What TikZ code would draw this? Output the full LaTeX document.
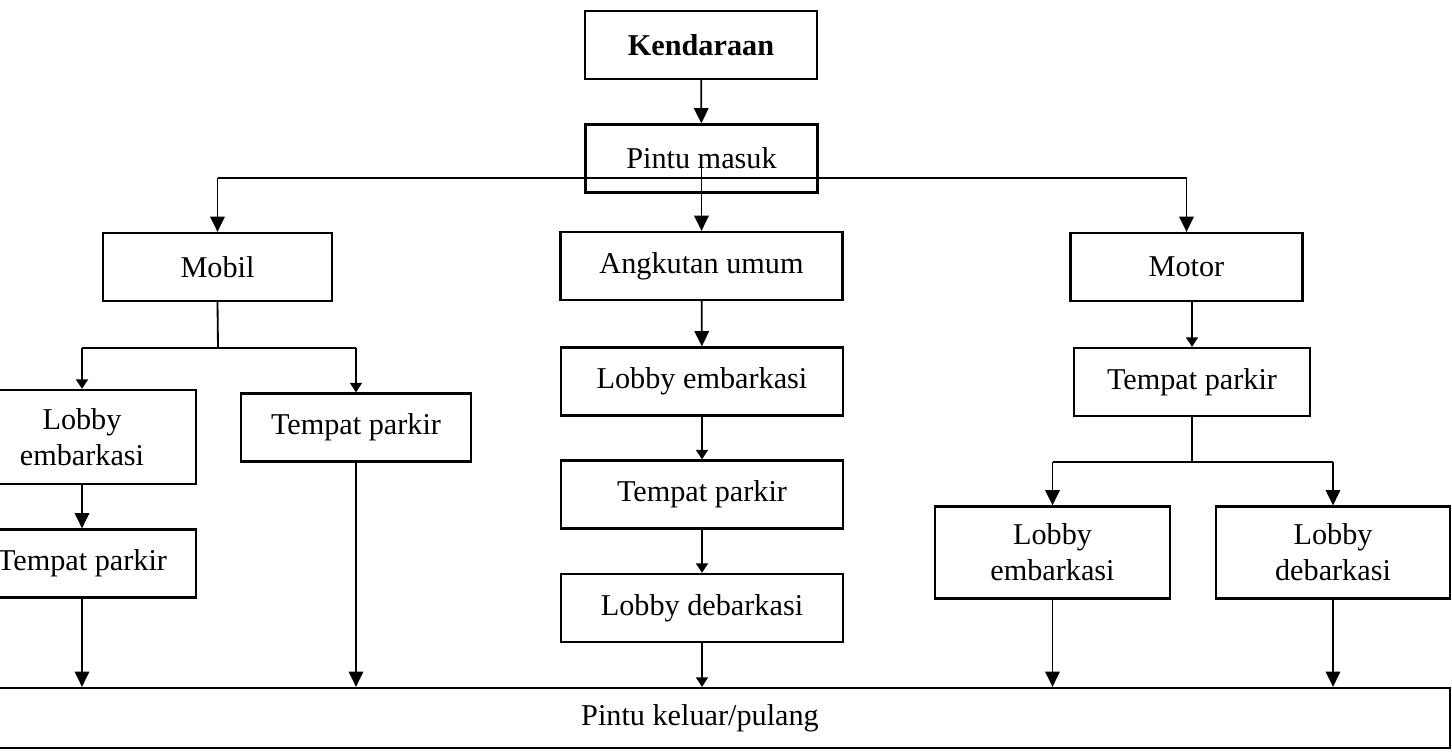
\documentclass[tikz,border=0pt]{standalone}
\usepackage{fontspec}
\setmainfont{Liberation Serif}
\usetikzlibrary{arrows.meta}
\newcommand{\boxfont}{\fontsize{21.5}{25.5}\selectfont}

\begin{document}
\begin{tikzpicture}[
  x=0.025cm,
  y=-0.025cm,
  every node/.style={font=\boxfont, black},
  box/.style={draw, line width=1.6pt, inner sep=0pt, align=center,
    minimum width=5.8cm, minimum height=1.7cm},
  widebox/.style={box, minimum width=7.05cm},
  tallbox/.style={box, minimum height=2.3cm},
  link/.style={line width=1.3pt},
  arrow/.style={link, -{Triangle[length=0.38cm, width=0.36cm]}},
  smallarrow/.style={link, -{Triangle[length=0.24cm, width=0.3cm]}}
]
  % ---- page frame, the scan cuts the outer boxes ---------------------
  \useasboundingbox (0,0) rectangle (1452,755);
  \clip (0,0) rectangle (1452,755);

  % ---- top of the flow -----------------------------------------------
  \node[box, font=\boxfont\bfseries] (kend) at (701,45) {Kendaraan};
  \node[box] (masuk) at (701.5,158.5) {Pintu masuk};
  \coordinate (split) at (701,178);

  % ---- the three kinds of vehicle ------------------------------------
  \node[box, minimum width=5.72cm] (mobil) at (217.5,267) {Mobil};
  \node[widebox] (angk) at (701.5,266) {Angkutan umum};
  \node[box] (motor) at (1186.5,267) {Motor};

  % ---- mobil branch --------------------------------------------------
  \node[tallbox, minimum width=5.7cm, minimum height=2.35cm] (mlobby) at (82,437)
    {Lobby\\embarkasi};
  \node[box, minimum width=5.75cm] (mparkB) at (356,427.5) {Tempat parkir};
  \node[box, minimum width=5.7cm] (mparkA) at (82,563.5) {Tempat parkir};
  \coordinate (msplit) at (218,348);

  % ---- angkutan umum branch ------------------------------------------
  \node[widebox] (alobby) at (702,381.5) {Lobby embarkasi};
  \node[widebox] (apark) at (702,494.5) {Tempat parkir};
  \node[widebox] (adeb) at (702,608) {Lobby debarkasi};

  % ---- motor branch --------------------------------------------------
  \node[box, minimum width=5.9cm] (tpark) at (1192,382) {Tempat parkir};
  \node[tallbox, minimum width=5.88cm] (tlobbyE) at (1052.5,552.5)
    {Lobby\\embarkasi};
  \node[tallbox, minimum width=5.85cm] (tlobbyD) at (1333,552.5)
    {Lobby\\debarkasi};
  \coordinate (tsplit) at (1192,462);

  % ---- exit ----------------------------------------------------------
  \node[box, minimum width=37.5cm, minimum height=1.5cm] (keluar) at (700,718)
    {Pintu keluar/pulang};

  % ---- connectors, top -----------------------------------------------
  \draw[arrow] (kend) -- (masuk);
  \draw[link] (mobil.north |- split) -- (motor.north |- split);
  \draw[arrow] (mobil.north |- split) -- (mobil.north);
  \draw[arrow] (motor.north |- split) -- (motor.north);
  \draw[arrow] (masuk.center) -- (angk.north);

  % ---- connectors, mobil ---------------------------------------------
  \draw[link] (mobil.south) -- (msplit);
  \draw[link] (mlobby.north |- msplit) -- (mparkB.north |- msplit);
  \draw[smallarrow] (mlobby.north |- msplit) -- (mlobby.north);
  \draw[smallarrow] (mparkB.north |- msplit) -- (mparkB.north);
  \draw[arrow] (mlobby) -- (mparkA);
  \draw[arrow] (mparkA.south) -- (mparkA.south |- keluar.north);
  \draw[arrow] (mparkB.south) -- (mparkB.south |- keluar.north);

  % ---- connectors, angkutan umum -------------------------------------
  \draw[arrow] (angk) -- (alobby);
  \draw[smallarrow] (alobby) -- (apark);
  \draw[smallarrow] (apark) -- (adeb);
  \draw[smallarrow] (adeb.south) -- (adeb.south |- keluar.north);

  % ---- connectors, motor ---------------------------------------------
  \draw[smallarrow] (tpark.north |- motor.south) -- (tpark.north);
  \draw[link] (tpark.south) -- (tsplit);
  \draw[link] (tlobbyE.north |- tsplit) -- (tlobbyD.north |- tsplit);
  \draw[arrow] (tlobbyE.north |- tsplit) -- (tlobbyE.north);
  \draw[arrow] (tlobbyD.north |- tsplit) -- (tlobbyD.north);
  \draw[arrow] (tlobbyE.south) -- (tlobbyE.south |- keluar.north);
  \draw[arrow] (tlobbyD.south) -- (tlobbyD.south |- keluar.north);
\end{tikzpicture}
\end{document}
